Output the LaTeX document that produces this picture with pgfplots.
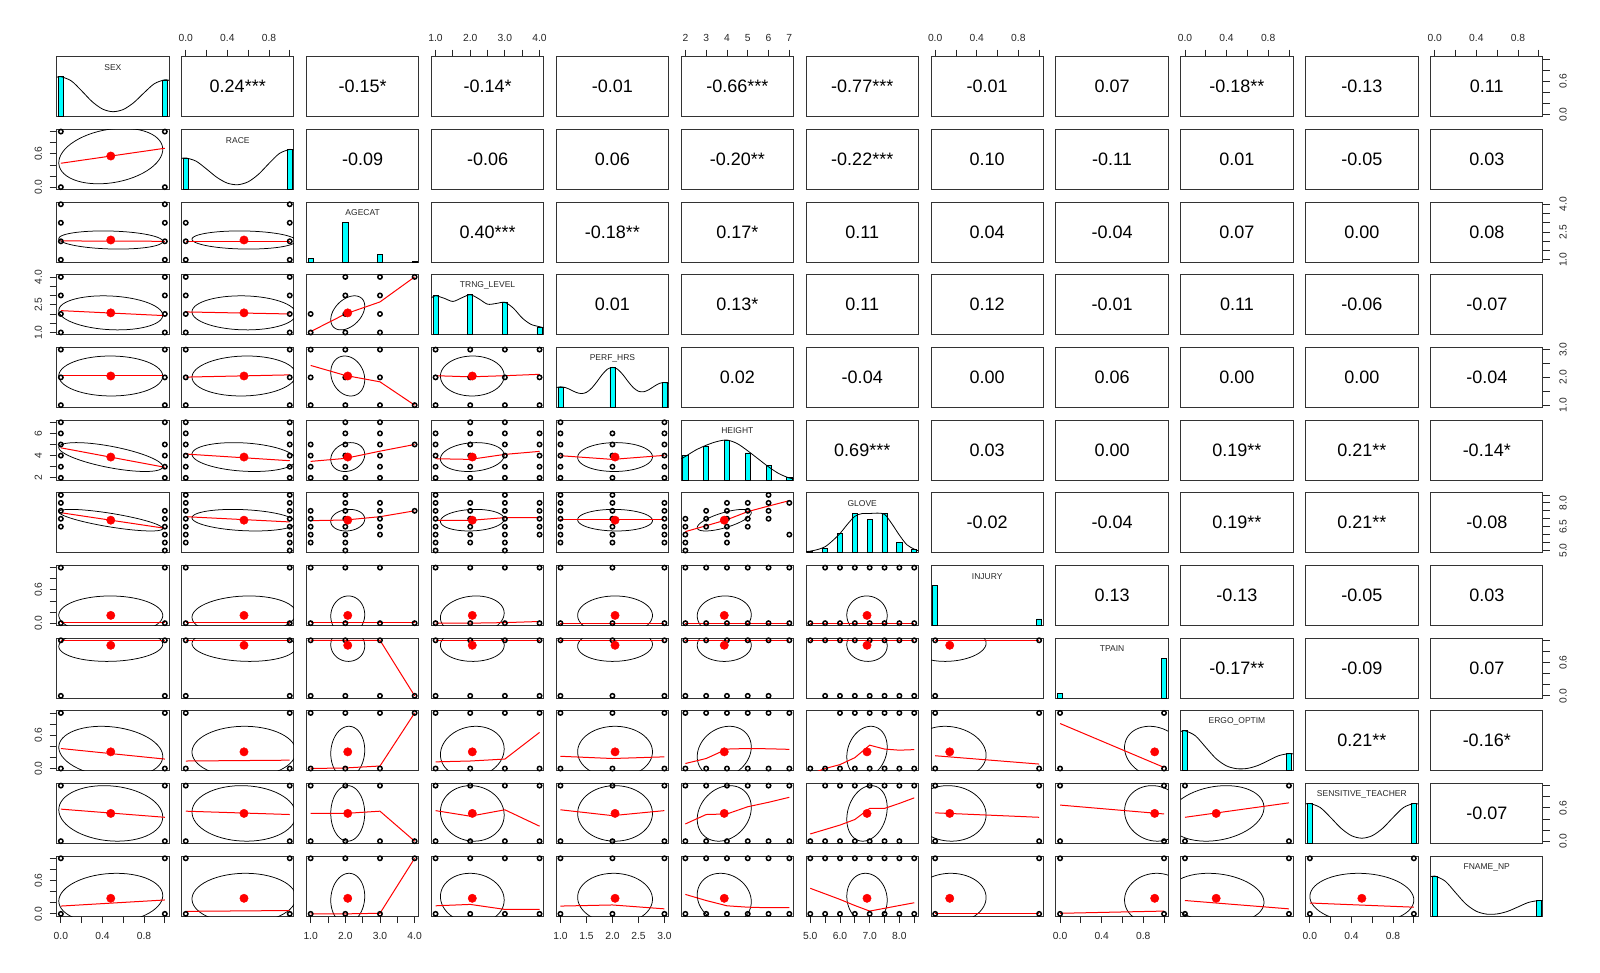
\documentclass[border=0pt]{standalone}
\usepackage{fontspec}
\setmainfont{Liberation Sans}
\usepackage{pgfplots}
\pgfplotsset{compat=1.18}
\definecolor{histcol}{RGB}{0,255,255}
\definecolor{smoothred}{RGB}{255,0,0}

% variable: index, axis low, axis high, mean, sd
\newcommand\defvar[5]{%
 \expandafter\def\csname lo#1\endcsname{#2}%
 \expandafter\def\csname hi#1\endcsname{#3}%
 \expandafter\def\csname mn#1\endcsname{#4}%
 \expandafter\def\csname sd#1\endcsname{#5}}
\defvar{1}{-0.04}{1.04}{0.48}{0.50}
\defvar{2}{-0.04}{1.04}{0.56}{0.50}
\defvar{3}{0.88}{4.12}{2.07}{0.49}
\defvar{4}{0.88}{4.12}{2.06}{0.92}
\defvar{5}{0.92}{3.08}{2.05}{0.72}
\defvar{6}{1.8}{7.2}{3.87}{1.30}
\defvar{7}{4.86}{8.64}{6.91}{0.68}
\defvar{8}{-0.04}{1.04}{0.14}{0.35}
\defvar{9}{-0.04}{1.04}{0.91}{0.29}
\defvar{10}{-0.04}{1.04}{0.30}{0.46}
\defvar{11}{-0.04}{1.04}{0.50}{0.50}
\defvar{12}{-0.04}{1.04}{0.28}{0.45}

\pgfplotsset{
 pos/.style 2 args={at={({(56.7+(#2-1)*124.9)*1pt},{-(56.7+(#1-1)*72.67)*1pt})}},
 pan/.style={width=112.3pt,height=60pt,scale only axis,anchor=north west,
   axis line style={black!80,line width=0.9pt},
   xtick=\empty,ytick=\empty,enlargelimits=false,
   tick align=outside,major tick length=7pt,
   every tick/.style={black!85,line width=0.8pt},
   tick label style={font=\fontsize{10.3}{12}\selectfont,text=black!85},
   clip=true},
 XT/.style={xtick pos=right,xticklabel pos=right,xticklabel style={anchor=base},xticklabel shift=8.1pt},
 XB/.style={xtick pos=left,xticklabel pos=left,xticklabel style={anchor=base},xticklabel shift=16.3pt},
 YL/.style={ytick pos=left,yticklabel pos=left,yticklabel style={rotate=90,anchor=base},yticklabel shift=7.8pt},
 YR/.style={ytick pos=right,yticklabel pos=right,yticklabel style={rotate=90,anchor=base},yticklabel shift=16.6pt},
 xbin/.style={xtick={0,0.2,0.4,0.6,0.8,1},xticklabels={0.0,,0.4,,0.8,}},
 ybin/.style={ytick={0,0.2,0.4,0.6,0.8,1},yticklabels={0.0,,,0.6,,}},
 xage/.style={xtick={1,1.5,2,2.5,3,3.5,4},xticklabels={1.0,,2.0,,3.0,,4.0}},
 yage/.style={ytick={1,1.5,2,2.5,3,3.5,4},yticklabels={1.0,,,2.5,,,4.0}},
 xperf/.style={xtick={1,1.5,2,2.5,3},xticklabels={1.0,1.5,2.0,2.5,3.0}},
 yperf/.style={ytick={1,1.5,2,2.5,3},yticklabels={1.0,,2.0,,3.0}},
 xhgt/.style={xtick={2,3,4,5,6,7},xticklabels={2,3,4,5,6,7}},
 yhgt/.style={ytick={2,3,4,5,6,7},yticklabels={2,,4,,6,}},
 xglv/.style={xtick={5,5.5,6,6.5,7,7.5,8,8.5},xticklabels={5.0,,6.0,,7.0,,8.0,}},
 yglv/.style={ytick={5,5.5,6,6.5,7,7.5,8,8.5},yticklabels={5.0,,,6.5,,,8.0,}},
}

% lower panel: row, col, r, options, points, smoother
\newcommand\Low[6]{%
\begin{axis}[pan,pos={#1}{#2},xmin=\csname lo#2\endcsname,xmax=\csname hi#2\endcsname,
  ymin=\csname lo#1\endcsname,ymax=\csname hi#1\endcsname,#4]
\addplot[only marks,mark=o,mark size=2.2pt,mark options={line width=1.5pt,draw=black,fill=none}] coordinates {#5};
\draw[black,line width=0.75pt] plot[domain=0:360,samples=61,variable=\t]
 ({\csname mn#2\endcsname+\csname sd#2\endcsname*0.70711*(sqrt(1+(#3))*cos(\t)-sqrt(1-(#3))*sin(\t))},
  {\csname mn#1\endcsname+\csname sd#1\endcsname*0.70711*(sqrt(1+(#3))*cos(\t)+sqrt(1-(#3))*sin(\t))});
\addplot[smoothred,line width=1pt] coordinates {#6};
\edef\dotplot{\noexpand\addplot[only marks,mark=*,mark size=4.2pt,smoothred] coordinates {(\csname mn#2\endcsname,\csname mn#1\endcsname)};}\dotplot
\end{axis}}

% diagonal with density: index, label, bars, density, options
\newcommand\Dia[5]{%
\begin{axis}[pan,pos={#1}{#1},xmin=\csname lo#1\endcsname,xmax=\csname hi#1\endcsname,ymin=0,ymax=1.5,#5]
\addplot[ybar,bar width=5.1pt,fill=histcol,draw=black,line width=0.7pt] coordinates {#3};
\addplot[black,smooth,line width=0.8pt] coordinates {#4};
\node[font=\fontsize{8.5}{10}\selectfont,text=black!85] at (rel axis cs:0.5,0.8167) {#2};
\end{axis}}
% diagonal without density
\newcommand\DiaN[4]{%
\begin{axis}[pan,pos={#1}{#1},xmin=\csname lo#1\endcsname,xmax=\csname hi#1\endcsname,ymin=0,ymax=1.5,#4]
\addplot[ybar,bar width=5.1pt,fill=histcol,draw=black,line width=0.7pt] coordinates {#3};
\node[font=\fontsize{8.5}{10}\selectfont,text=black!85] at (rel axis cs:0.5,0.8167) {#2};
\end{axis}}

% upper panel: row, col, text, options
\newcommand\Up[4]{%
\begin{axis}[pan,pos={#1}{#2},xmin=\csname lo#2\endcsname,xmax=\csname hi#2\endcsname,
  ymin=\csname lo#1\endcsname,ymax=\csname hi#1\endcsname,#4]
\node[font=\fontsize{18}{20}\selectfont] at (rel axis cs:0.5,0.5) {#3};
\end{axis}}

\begin{document}
\begin{tikzpicture}
\path[use as bounding box] (0pt,0pt) rectangle (1600pt,-973pt);

%================ row 1
\Dia{1}{SEX}{(0,1)(1,0.92)}{(-0.04,0.983)(0,1)(0.1,0.896)(0.2,0.647)(0.3,0.378)(0.4,0.192)(0.5,0.125)(0.6,0.180)(0.7,0.350)(0.8,0.597)(0.9,0.827)(1,0.923)(1.04,0.907)}{}
\Up{1}{2}{0.24***}{XT,xbin}
\Up{1}{3}{-0.15*}{}
\Up{1}{4}{-0.14*}{XT,xage}
\Up{1}{5}{-0.01}{}
\Up{1}{6}{-0.66***}{XT,xhgt}
\Up{1}{7}{-0.77***}{}
\Up{1}{8}{-0.01}{XT,xbin}
\Up{1}{9}{0.07}{}
\Up{1}{10}{-0.18**}{XT,xbin}
\Up{1}{11}{-0.13}{}
\Up{1}{12}{0.11}{XT,xbin,YR,ybin}

%================ row 2
\Low{2}{1}{0.24}{YL,ybin}{(0,0)(0,1)(1,0)(1,1)}{(0,0.43)(1,0.70)}
\Dia{2}{RACE}{(0,0.78)(1,1)}{(-0.04,0.772)(0,0.786)(0.1,0.704)(0.2,0.508)(0.3,0.299)(0.4,0.156)(0.5,0.116)(0.6,0.189)(0.7,0.378)(0.8,0.647)(0.9,0.896)(1,1)(1.04,0.983)}{}
\Up{2}{3}{-0.09}{}
\Up{2}{4}{-0.06}{}
\Up{2}{5}{0.06}{}
\Up{2}{6}{-0.20**}{}
\Up{2}{7}{-0.22***}{}
\Up{2}{8}{0.10}{}
\Up{2}{9}{-0.11}{}
\Up{2}{10}{0.01}{}
\Up{2}{11}{-0.05}{}
\Up{2}{12}{0.03}{}

%================ row 3
\Low{3}{1}{-0.15}{}{(0,1)(0,2)(0,3)(0,4)(1,1)(1,2)(1,3)(1,4)}{(0,2.02)(1,2.0)}
\Low{3}{2}{-0.09}{}{(0,1)(0,2)(0,3)(1,1)(1,2)(1,3)(1,4)}{(0,2.0)(1,2.0)}
\DiaN{3}{AGECAT}{(1,0.08)(2,1)(3,0.18)(4,0.015)}{}
\Up{3}{4}{0.40***}{}
\Up{3}{5}{-0.18**}{}
\Up{3}{6}{0.17*}{}
\Up{3}{7}{0.11}{}
\Up{3}{8}{0.04}{}
\Up{3}{9}{-0.04}{}
\Up{3}{10}{0.07}{}
\Up{3}{11}{0.00}{}
\Up{3}{12}{0.08}{YR,yage}

%================ row 4
\Low{4}{1}{-0.14}{YL,yage}{(0,1)(0,2)(0,3)(0,4)(1,1)(1,2)(1,3)(1,4)}{(0,2.18)(1,1.91)}
\Low{4}{2}{-0.06}{}{(0,1)(0,2)(0,3)(0,4)(1,1)(1,2)(1,3)(1,4)}{(0,2.11)(1,2.0)}
\Low{4}{3}{0.40}{}{(1,1)(1,2)(2,1)(2,2)(2,3)(2,4)(3,1)(3,2)(3,3)(3,4)(4,4)}{(1,1.05)(2,2.0)(3,2.65)(4,4.0)}
\Dia{4}{TRNG\_LEVEL}{(1,0.985)(2,1)(3,0.82)(4,0.175)}{(0.88,0.92)(1,0.975)(1.25,0.91)(1.5,0.832)(1.75,0.92)(2,1)(2.25,0.896)(2.5,0.763)(2.75,0.781)(3,0.808)(3.25,0.659)(3.5,0.417)(3.75,0.26)(4,0.2)(4.12,0.175)}{}
\Up{4}{5}{0.01}{}
\Up{4}{6}{0.13*}{}
\Up{4}{7}{0.11}{}
\Up{4}{8}{0.12}{}
\Up{4}{9}{-0.01}{}
\Up{4}{10}{0.11}{}
\Up{4}{11}{-0.06}{}
\Up{4}{12}{-0.07}{}

%================ row 5
\Low{5}{1}{-0.01}{}{(0,1)(0,2)(0,3)(1,1)(1,2)(1,3)}{(0,2.05)(1,2.05)}
\Low{5}{2}{0.06}{}{(0,1)(0,2)(0,3)(1,1)(1,2)(1,3)}{(0,2.01)(1,2.09)}
\Low{5}{3}{-0.18}{}{(1,1)(1,2)(1,3)(2,1)(2,2)(2,3)(3,1)(3,2)(3,3)(4,1)}{(1,2.43)(2,2.07)(3,1.84)(4,1.0)}
\Low{5}{4}{0.01}{}{(1,1)(1,2)(1,3)(2,1)(2,2)(2,3)(3,1)(3,2)(3,3)(4,1)(4,2)(4,3)}{(1,2.06)(2,2.02)(3,2.06)(4,2.11)}
\Dia{5}{PERF\_HRS}{(1,0.51)(2,1)(3,0.62)}{(0.92,0.494)(1,0.514)(1.1,0.493)(1.2,0.437)(1.3,0.375)(1.4,0.345)(1.5,0.376)(1.6,0.48)(1.7,0.64)(1.8,0.816)(1.9,0.952)(2,1)(2.1,0.953)(2.2,0.819)(2.3,0.648)(2.4,0.495)(2.5,0.403)(2.6,0.39)(2.7,0.442)(2.8,0.525)(2.9,0.598)(3,0.624)(3.08,0.6)}{}
\Up{5}{6}{0.02}{}
\Up{5}{7}{-0.04}{}
\Up{5}{8}{0.00}{}
\Up{5}{9}{0.06}{}
\Up{5}{10}{0.00}{}
\Up{5}{11}{0.00}{}
\Up{5}{12}{-0.04}{YR,yperf}

%================ row 6
\Low{6}{1}{-0.66}{YL,yhgt}{(0,2)(0,3)(0,4)(0,5)(0,6)(0,7)(1,2)(1,3)(1,4)(1,5)(1,7)}{(0,4.7)(1,2.95)}
\Low{6}{2}{-0.20}{}{(0,2)(0,3)(0,4)(0,5)(0,6)(0,7)(1,2)(1,3)(1,4)(1,5)(1,6)(1,7)}{(0,4.14)(1,3.54)}
\Low{6}{3}{0.17}{}{(1,2)(1,3)(1,4)(1,5)(2,2)(2,3)(2,4)(2,5)(2,6)(2,7)(3,2)(3,3)(3,4)(3,5)(3,6)(3,7)(4,5)}{(1,3.48)(2,3.75)(3,4.4)(4,5.0)}
\Low{6}{4}{0.13}{}{(1,2)(1,3)(1,4)(1,5)(1,6)(2,2)(2,3)(2,4)(2,5)(2,6)(2,7)(3,2)(3,3)(3,4)(3,5)(3,6)(3,7)(4,2)(4,3)(4,4)(4,5)(4,6)}{(1,3.72)(2,3.66)(3,4.11)(4,4.38)}
\Low{6}{5}{0.02}{}{(1,2)(1,3)(1,4)(1,5)(1,6)(1,7)(2,2)(2,3)(2,4)(2,5)(2,6)(3,2)(3,3)(3,4)(3,5)(3,6)(3,7)}{(1,3.99)(2,3.66)(3,4.02)}
\Dia{6}{HEIGHT}{(2,0.61)(3,0.85)(4,1)(5,0.68)(6,0.36)(7,0.075)}{(1.8,0.53)(2,0.59)(2.5,0.75)(3,0.87)(3.5,0.96)(4,1.0)(4.5,0.91)(5,0.73)(5.5,0.53)(6,0.33)(6.5,0.16)(7,0.05)(7.2,0.03)}{}
\Up{6}{7}{0.69***}{}
\Up{6}{8}{0.03}{}
\Up{6}{9}{0.00}{}
\Up{6}{10}{0.19**}{}
\Up{6}{11}{0.21**}{}
\Up{6}{12}{-0.14*}{}

%================ row 7
\Low{7}{1}{-0.77}{}{(0,6.5)(0,7)(0,7.5)(0,8)(0,8.5)(1,5)(1,5.5)(1,6)(1,6.5)(1,7)(1,7.5)}{(0,7.38)(1,6.40)}
\Low{7}{2}{-0.22}{}{(0,5.5)(0,6)(0,6.5)(0,7)(0,7.5)(0,8)(0,8.5)(1,5)(1,5.5)(1,6)(1,6.5)(1,7)(1,7.5)(1,8)(1,8.5)}{(0,7.13)(1,6.80)}
\Low{7}{3}{0.11}{}{(1,5.5)(1,6)(1,6.5)(1,7)(1,7.5)(2,5)(2,5.5)(2,6)(2,6.5)(2,7)(2,7.5)(2,8)(2,8.5)(3,6)(3,6.5)(3,7)(3,7.5)(3,8)(4,7.5)}{(1,6.88)(2,6.92)(3,7.13)(4,7.5)}
\Low{7}{4}{0.11}{}{(1,5)(1,5.5)(1,6)(1,6.5)(1,7)(1,7.5)(1,8)(1,8.5)(2,5.5)(2,6)(2,6.5)(2,7)(2,7.5)(2,8)(3,5)(3,5.5)(3,6)(3,6.5)(3,7)(3,7.5)(3,8)(3,8.5)(4,6)(4,6.5)(4,7)(4,7.5)(4,8)}{(1,6.9)(2,6.9)(3,7.07)(4,7.07)}
\Low{7}{5}{-0.04}{}{(1,5.5)(1,6)(1,6.5)(1,7)(1,7.5)(1,8)(1,8.5)(2,5.5)(2,6)(2,6.5)(2,7)(2,7.5)(2,8)(2,8.5)(3,5.5)(3,6)(3,6.5)(3,7)(3,7.5)(3,8)}{(1,6.94)(2,6.94)(3,6.94)}
\Low{7}{6}{0.69}{}{(2,5)(2,5.5)(2,6)(2,6.5)(2,7)(3,6.5)(3,7)(3,7.5)(4,5.5)(4,6)(4,6.5)(4,7)(4,7.5)(4,8)(5,6.5)(5,7)(5,7.5)(5,8)(6,7)(6,7.5)(6,8)(6,8.5)(7,6)(7,8)}{(2,6.19)(3,6.56)(4,6.94)(5,7.45)(6,7.8)(7,8.14)}
\Dia{7}{GLOVE}{(5,0.035)(5.5,0.11)(6,0.475)(6.5,0.985)(7,0.825)(7.5,0.99)(8,0.26)(8.5,0.075)}{(4.86,0.03)(5,0.04)(5.25,0.08)(5.5,0.15)(5.75,0.30)(6,0.48)(6.25,0.71)(6.5,0.91)(6.75,0.98)(7,0.98)(7.25,0.99)(7.5,0.96)(7.75,0.72)(8,0.44)(8.25,0.2)(8.5,0.09)(8.64,0.05)}{}
\Up{7}{8}{-0.02}{}
\Up{7}{9}{-0.04}{}
\Up{7}{10}{0.19**}{}
\Up{7}{11}{0.21**}{}
\Up{7}{12}{-0.08}{YR,yglv}

%================ row 8
\Low{8}{1}{-0.01}{YL,ybin}{(0,0)(0,1)(1,0)(1,1)}{(0,0.01)(1,0.01)}
\Low{8}{2}{0.10}{}{(0,0)(0,1)(1,0)(1,1)}{(0,0.01)(1,0.01)}
\Low{8}{3}{0.04}{}{(1,0)(2,0)(3,0)(4,0)(1,1)(2,1)(3,1)}{(1,0.01)(2,0.01)(3,0.01)(4,0.01)}
\Low{8}{4}{0.12}{}{(1,0)(1,1)(2,0)(2,1)(3,0)(3,1)(4,0)(4,1)}{(1,0)(2,0)(3,0.01)(4,0.03)}
\Low{8}{5}{0.00}{}{(1,0)(1,1)(2,0)(2,1)(3,0)(3,1)}{(1,0)(2,0)(3,0)}
\Low{8}{6}{0.03}{}{(2,0)(2,1)(3,0)(3,1)(4,0)(4,1)(5,0)(5,1)(6,0)(6,1)(7,0)(7,1)}{(2,0)(3,0)(4,0)(5,0)(6,0)(7,0)}
\Low{8}{7}{-0.02}{}{(5,0)(5.5,0)(6,0)(6.5,0)(7,0)(7.5,0)(8,0)(8.5,0)(5.5,1)(6,1)(6.5,1)(7,1)(7.5,1)(8,1)(8.5,1)}{(5,0)(8.5,0)}
\DiaN{8}{INJURY}{(0,1)(1,0.16)}{}
\Up{8}{9}{0.13}{}
\Up{8}{10}{-0.13}{}
\Up{8}{11}{-0.05}{}
\Up{8}{12}{0.03}{}

%================ row 9
\Low{9}{1}{0.07}{}{(0,0)(0,1)(1,0)(1,1)}{(0,1)(1,1)}
\Low{9}{2}{-0.11}{}{(0,0)(0,1)(1,0)(1,1)}{(0,1)(1,1)}
\Low{9}{3}{-0.04}{}{(1,1)(2,1)(3,1)(1,0)(2,0)(3,0)(4,0)}{(1,1)(2,1)(3,1)(4,0)}
\Low{9}{4}{-0.01}{}{(1,0)(1,1)(2,0)(2,1)(3,0)(3,1)(4,0)(4,1)}{(1,1)(4,1)}
\Low{9}{5}{0.06}{}{(1,0)(1,1)(2,0)(2,1)(3,0)(3,1)}{(1,1)(3,1)}
\Low{9}{6}{0.00}{}{(2,0)(2,1)(3,0)(3,1)(4,0)(4,1)(5,0)(5,1)(6,0)(6,1)(7,1)}{(2,1)(7,1)}
\Low{9}{7}{-0.04}{}{(5.5,0)(6,0)(6.5,0)(7,0)(7.5,0)(8,0)(8.5,0)(5,1)(5.5,1)(6,1)(6.5,1)(7,1)(7.5,1)(8,1)(8.5,1)}{(5,1)(8.5,1)}
\Low{9}{8}{0.13}{}{(0,1)(1,1)(0,0)}{(0,1)(1,1)}
\DiaN{9}{TPAIN}{(0,0.11)(1,1)}{}
\Up{9}{10}{-0.17**}{}
\Up{9}{11}{-0.09}{}
\Up{9}{12}{0.07}{YR,ybin}

%================ row 10
\Low{10}{1}{-0.18}{YL,ybin}{(0,0)(0,1)(1,0)(1,1)}{(0,0.36)(1,0.17)}
\Low{10}{2}{0.01}{}{(0,0)(0,1)(1,0)(1,1)}{(0,0.135)(1,0.15)}
\Low{10}{3}{0.07}{}{(1,1)(2,1)(3,1)(4,1)(1,0)(2,0)(3,0)}{(1,0)(2,0.01)(3,0.045)(4,1.0)}
\Low{10}{4}{0.11}{}{(1,0)(1,1)(2,0)(2,1)(3,0)(3,1)(4,0)(4,1)}{(1,0.12)(2,0.135)(3,0.17)(4,0.65)}
\Low{10}{5}{0.00}{}{(1,0)(1,1)(2,0)(2,1)(3,0)(3,1)}{(1,0.22)(2,0.18)(3,0.21)}
\Low{10}{6}{0.19}{}{(2,0)(2,1)(3,0)(3,1)(4,0)(4,1)(5,0)(5,1)(6,0)(6,1)(7,0)(7,1)}{(2,0.09)(3,0.18)(4,0.35)(5,0.36)(6,0.355)(7,0.345)}
\Low{10}{7}{0.19}{}{(5,0)(5.5,0)(6,0)(6.5,0)(7,0)(7.5,0)(8,0)(8.5,0)(6,1)(6.5,1)(7,1)(7.5,1)(8,1)(8.5,1)}{(5,-0.1)(5.5,0.0)(6,0.07)(6.5,0.195)(7,0.42)(7.5,0.35)(8,0.33)(8.5,0.34)}
\Low{10}{8}{-0.13}{}{(0,0)(0,1)(1,0)(1,1)}{(0,0.23)(1,0.08)}
\Low{10}{9}{-0.17}{}{(0,0)(0,1)(1,0)(1,1)}{(0,0.81)(1,0.02)}
\Dia{10}{ERGO\_OPTIM}{(0,1)(1,0.43)}{(-0.04,0.979)(0,1)(0.1,0.874)(0.2,0.585)(0.3,0.30)(0.4,0.12)(0.5,0.05)(0.6,0.058)(0.7,0.13)(0.8,0.251)(0.9,0.375)(1,0.429)(1.04,0.42)}{}
\Up{10}{11}{0.21**}{}
\Up{10}{12}{-0.16*}{}

%================ row 11
\Low{11}{1}{-0.13}{}{(0,0)(0,1)(1,0)(1,1)}{(0,0.577)(1,0.43)}
\Low{11}{2}{-0.05}{}{(0,0)(0,1)(1,0)(1,1)}{(0,0.54)(1,0.48)}
\Low{11}{3}{0.00}{}{(1,1)(2,1)(3,1)(1,0)(2,0)(3,0)(4,0)}{(1,0.5)(2,0.5)(3,0.54)(4,0.0)}
\Low{11}{4}{-0.06}{}{(1,0)(1,1)(2,0)(2,1)(3,0)(3,1)(4,0)(4,1)}{(1,0.55)(2,0.45)(3,0.565)(4,0.27)}
\Low{11}{5}{0.00}{}{(1,0)(1,1)(2,0)(2,1)(3,0)(3,1)}{(1,0.565)(2,0.46)(3,0.55)}
\Low{11}{6}{0.21}{}{(2,0)(2,1)(3,0)(3,1)(4,0)(4,1)(5,0)(5,1)(6,0)(6,1)(7,0)(7,1)}{(2,0.31)(3,0.48)(4,0.49)(5,0.62)(6,0.70)(7,0.79)}
\Low{11}{7}{0.21}{}{(5,0)(5.5,0)(6,0)(6.5,0)(7,0)(7.5,0)(8,0)(5.5,1)(6,1)(6.5,1)(7,1)(7.5,1)(8,1)(8.5,1)}{(5,0.13)(5.5,0.21)(6,0.29)(6.5,0.39)(7,0.59)(7.5,0.59)(8,0.68)(8.5,0.78)}
\Low{11}{8}{-0.05}{}{(0,0)(0,1)(1,0)(1,1)}{(0,0.51)(1,0.43)}
\Low{11}{9}{-0.09}{}{(0,0)(0,1)(1,0)(1,1)}{(0,0.65)(1,0.49)}
\Low{11}{10}{0.21}{}{(0,0)(0,1)(1,0)(1,1)}{(0,0.43)(1,0.69)}
\Dia{11}{SENSITIVE\_TEACHER}{(0,0.99)(1,1)}{(-0.04,0.983)(0,1)(0.1,0.896)(0.2,0.647)(0.3,0.378)(0.4,0.193)(0.5,0.13)(0.6,0.193)(0.7,0.378)(0.8,0.647)(0.9,0.896)(1,1)(1.04,0.983)}{}
\Up{11}{12}{-0.07}{YR,ybin}

%================ row 12
\Low{12}{1}{0.11}{YL,ybin,XB,xbin}{(0,0)(0,1)(1,0)(1,1)}{(0,0.14)(1,0.25)}
\Low{12}{2}{0.03}{}{(0,0)(0,1)(1,0)(1,1)}{(0,0.045)(1,0.06)}
\Low{12}{3}{0.08}{XB,xage}{(1,1)(2,1)(3,1)(4,1)(1,0)(2,0)(3,0)}{(1,0)(2,0)(3,0.01)(4,1.0)}
\Low{12}{4}{-0.07}{}{(1,0)(1,1)(2,0)(2,1)(3,0)(3,1)(4,0)(4,1)}{(1,0.145)(2,0.17)(3,0.08)(4,0.08)}
\Low{12}{5}{-0.04}{XB,xperf}{(1,0)(1,1)(2,0)(2,1)(3,0)(3,1)}{(1,0.14)(2,0.16)(3,0.09)}
\Low{12}{6}{-0.14}{}{(2,0)(2,1)(3,0)(3,1)(4,0)(4,1)(5,0)(5,1)(6,0)(6,1)(7,0)(7,1)}{(2,0.35)(3,0.24)(4,0.145)(5,0.12)(6,0.11)(7,0.11)}
\Low{12}{7}{-0.08}{XB,xglv}{(5,0)(5.5,0)(6,0)(6.5,0)(7,0)(7.5,0)(8,0)(8.5,0)(5,1)(5.5,1)(6,1)(6.5,1)(7,1)(7.5,1)(8,1)(8.5,1)}{(5,0.46)(5.5,0.36)(6,0.26)(6.5,0.15)(7,0.05)(7.5,0.10)(8,0.15)(8.5,0.20)}
\Low{12}{8}{0.03}{}{(0,0)(0,1)(1,0)(1,1)}{(0,0)(1,0)}
\Low{12}{9}{0.07}{XB,xbin}{(0,0)(0,1)(1,0)(1,1)}{(0,0.01)(1,0.05)}
\Low{12}{10}{-0.16}{}{(0,0)(0,1)(1,0)(1,1)}{(0,0.24)(1,0.09)}
\Low{12}{11}{-0.07}{XB,xbin}{(0,0)(0,1)(1,0)(1,1)}{(0,0.195)(1,0.12)}
\Dia{12}{FNAME\_NP}{(0,1)(1,0.39)}{(-0.04,0.979)(0,1)(0.1,0.874)(0.2,0.585)(0.3,0.30)(0.4,0.12)(0.5,0.048)(0.6,0.054)(0.7,0.118)(0.8,0.228)(0.9,0.34)(1,0.389)(1.04,0.381)}{}

\end{tikzpicture}
\end{document}
